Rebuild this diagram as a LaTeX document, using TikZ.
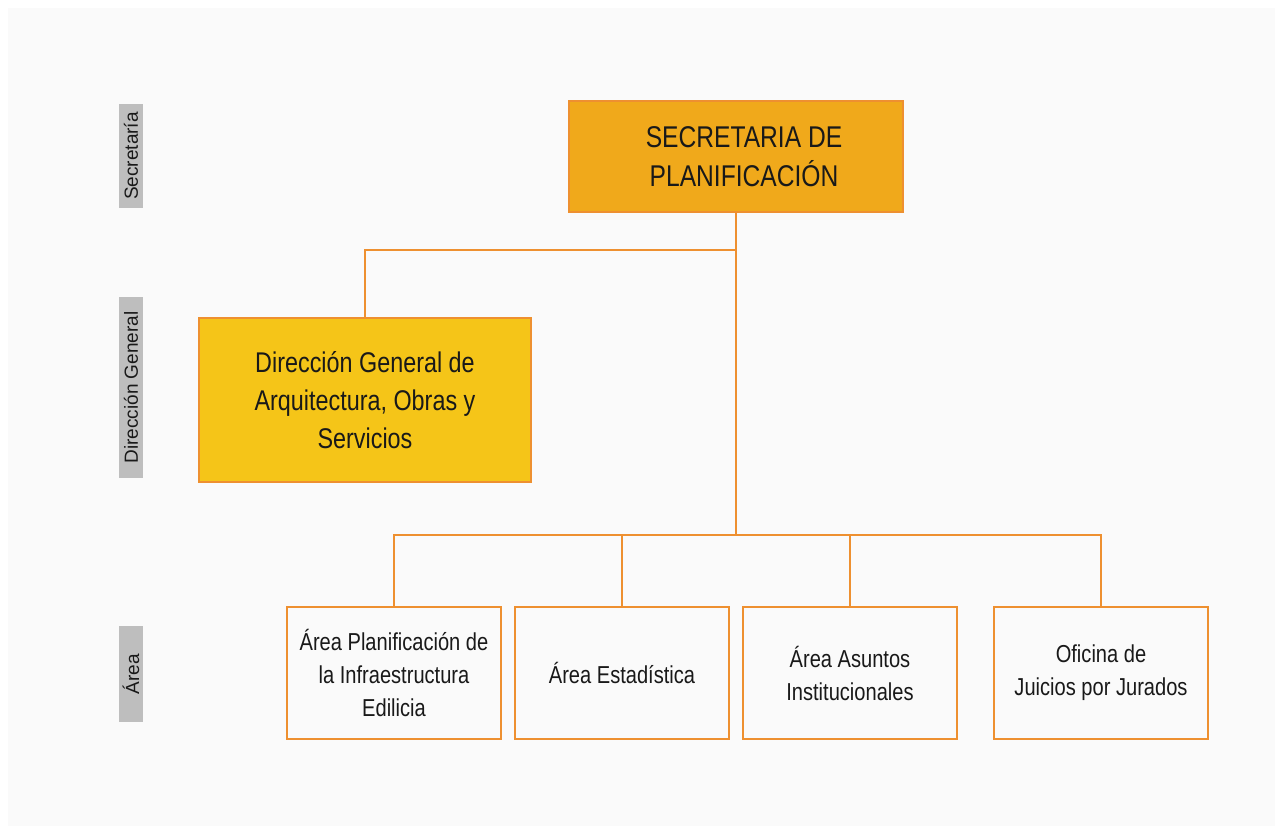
\documentclass[tikz,border=0pt]{standalone}
\usepackage{fontspec}
\setmainfont{Liberation Sans}
\newfontfamily\narrowfont[FakeStretch=0.82]{Liberation Sans}
\usetikzlibrary{positioning}
\definecolor{bgray}{HTML}{FAFAFA}
\definecolor{lgray}{HTML}{BEBEBE}
\definecolor{borange}{HTML}{EE9030}
\definecolor{secorange}{HTML}{F0A91B}
\definecolor{dgyellow}{HTML}{F5C518}

\begin{document}
\begin{tikzpicture}[
            x = 1pt, y = -1pt, % pixel grid
            line width = 2pt, % line style
            every node/.style = {text = black!90}
        ]

        \tikzstyle{level}=[
            fill = lgray,
            rotate = 90,
            minimum height = 24pt,
            inner sep = 0pt,
            font = \fontsize{19}{21}\selectfont
        ]
        \tikzstyle{unit}=[
            draw = borange,
            line width = 2.5pt,
            align = center,
            inner sep = 0pt
        ]
        \tikzstyle{area}=[
            unit,
            fill = bgray,
            minimum width = 214pt,
            minimum height = 132pt,
            font = \narrowfont\fontsize{24.5}{33}\selectfont
        ]

        % background
        \path[use as bounding box, fill = white] (0,0) rectangle (1283,834);
        \fill[bgray] (8,8) rectangle (1275,826);

        % side labels
        \node[level, minimum width = 104pt] (Lsec) at (131,156) {Secretaría};
        \node[level, minimum width = 181pt] (Ldg) at (131,387.5) {Dirección General};
        \node[level, minimum width = 96pt] (Larea) at (131,674) {Área};

        % secretaria level
        \node[unit, fill = secorange, minimum width = 334pt, minimum height = 111pt,
              font = \narrowfont\fontsize{30}{39}\selectfont] (SEC) at (736,156.5)
              {\hspace*{16pt}SECRETARIA DE\\\hspace*{16pt}PLANIFICACIÓN};

        % direccion general
        \node[unit, fill = dgyellow, minimum width = 332pt, minimum height = 164pt,
              font = \narrowfont\fontsize{28.5}{38}\selectfont] (DG) at (365,400)
              {Dirección General de\\Arquitectura, Obras y\\Servicios};

        % areas
        \node[area] (A1) at (394,673) {Área Planificación de\\la Infraestructura\\Edilicia};
        \node[area, right = 11.5pt of A1] (A2) {Área Estadística};
        \node[area, right = 11.5pt of A2] (A3) {Área Asuntos\\Institucionales};
        \node[area, right = 34.5pt of A3] (A4) {Oficina de\\Juicios por Jurados};

        % connectors
        \coordinate (J1) at (736,250);
        \coordinate (J2) at (736,535);

        \draw[borange] (SEC.south) -- (J2);
        \draw[borange] (J1) -| (DG.north);
        \draw[borange] (A1.north) |- (J2) -| (A4.north);
        \draw[borange] (A2.north) -- (A2.north |- J2);
        \draw[borange] (A3.north) -- (A3.north |- J2);

  \end{tikzpicture}
\end{document}
